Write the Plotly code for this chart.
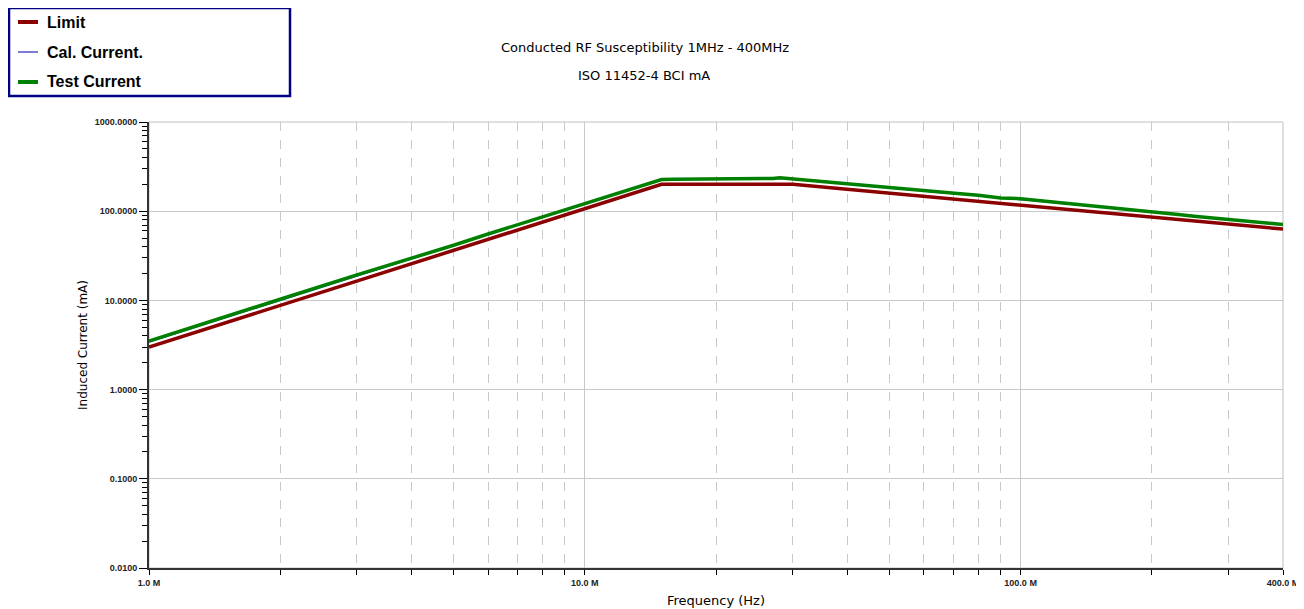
import plotly.graph_objects as go

# ---- data (frequency in MHz, current in mA) ----
limit_freq = [1, 15, 30, 400]
limit_ma = [3.0, 200, 200, 63]

freq = [1, 1.5, 2, 3, 4, 5, 6, 7, 8, 9, 10, 12, 14, 15, 16, 18, 20, 22, 25, 27,
        28, 30, 33, 36, 40, 45, 50, 55, 60, 65, 70, 75, 80, 90, 100, 110, 120,
        140, 160, 180, 200, 230, 250, 280, 300, 350, 380, 400]
test_ma = [3.5, 6.5, 10.3, 19.3, 29.6, 41.5, 55.5, 70.5, 86, 102, 120, 160, 204, 226,
           228, 229, 228, 231, 229, 233, 237, 229, 221, 212, 203, 193, 184, 177, 170,
           162, 158, 155, 151, 141, 138, 132, 125, 117, 109, 104, 99, 92, 88, 84, 81,
           76, 73, 71]
cal_ma = [3.4, 6.4, 10.1, 19.0, 29.2, 41.0, 55.0, 70.0, 85, 101, 119, 158, 202, 224,
          226, 227, 227, 229, 228, 230, 233, 228, 220, 211, 202, 192, 183, 176, 168,
          161, 157, 153, 149, 140, 136, 130, 124, 116, 108, 103, 98, 91, 87, 83, 80,
          75, 72, 70]

y_tickvals = [0.01, 0.1, 1, 10, 100, 1000]
y_ticktext = ["0.0100", "0.1000", "1.0000", "10.0000", "100.0000", "1000.0000"]
y_minor = [m * d for d in [0.01, 0.1, 1, 10, 100] for m in range(2, 10)]
x_tickvals = [1, 10, 100, 400]
x_ticktext = ["1.0 M", "10.0 M", "100.0 M", "400.0 M"]
x_minor = [m * d for d in [1, 10, 100] for m in range(2, 10) if m * d < 400]

legend_names = ["Limit", "Cal. Current.", "Test Current"]
colors = {"Limit": "#8b0000", "Cal. Current.": "#5050c8", "Test Current": "#008000"}
widths = {"Limit": 3.5, "Cal. Current.": 1.2, "Test Current": 3.5}

# page body has an 8px margin; target pixel coords are page coords
O = 8
L, R, T, B = 149, 1283, 122, 568
W, H = R - L, B - T
FW, FH = 1304 - O, 609 - O
TF = "DejaVu Sans"


def px(x):
    return (x - L) / W


def py(y):
    return (B - y) / H


fig = go.Figure()
fig.add_trace(go.Scatter(x=limit_freq, y=limit_ma, mode="lines", name="Limit",
                         line=dict(color=colors["Limit"], width=widths["Limit"])))
fig.add_trace(go.Scatter(x=freq, y=cal_ma, mode="lines", name="Cal. Current.",
                         line=dict(color=colors["Cal. Current."], width=widths["Cal. Current."])))
fig.add_trace(go.Scatter(x=freq, y=test_ma, mode="lines", name="Test Current",
                         line=dict(color=colors["Test Current"], width=widths["Test Current"])))

shapes = []
annotations = []
shapes.append(dict(type="rect", xref="paper", yref="paper", x0=0, x1=1, y0=0, y1=1,
                   line=dict(color="#c0c0c0", width=1), layer="below"))
shapes.append(dict(type="rect", xref="paper", yref="paper", x0=px(9), x1=px(290),
                   y0=py(96), y1=py(8), line=dict(color="#000080", width=2.5),
                   fillcolor="white"))
for i, name in enumerate(legend_names):
    yy = 22 + 30 * i
    shapes.append(dict(type="line", xref="paper", yref="paper", x0=px(18), x1=px(38),
                       y0=py(yy), y1=py(yy),
                       line=dict(color=colors[name], width=4 if name != "Cal. Current." else 1.5)))
    annotations.append(dict(text="<b>%s</b>" % name, xref="paper", yref="paper",
                            x=px(45), y=py(yy), xanchor="left", yanchor="middle",
                            showarrow=False, font=dict(family="Liberation Sans", size=16,
                                                       color="black")))
annotations.append(dict(text="Conducted RF Susceptibility 1MHz - 400MHz", xref="paper",
                        yref="paper", x=px(645), y=py(47), xanchor="center",
                        yanchor="middle", showarrow=False,
                        font=dict(family=TF, size=13, color="black")))
annotations.append(dict(text="ISO 11452-4 BCI mA", xref="paper",
                        yref="paper", x=px(644), y=py(75), xanchor="center",
                        yanchor="middle", showarrow=False,
                        font=dict(family=TF, size=13, color="black")))

fig.update_layout(
    width=FW, height=FH,
    margin=dict(l=L - O, r=1304 - R, t=T - O, b=609 - B, autoexpand=False),
    paper_bgcolor="white", plot_bgcolor="white",
    showlegend=False,
    shapes=shapes, annotations=annotations,
    font=dict(family="Liberation Sans", color="black"),
)
fig.update_xaxes(
    type="log", range=[0, 2.60206], automargin=False,
    tickmode="array", tickvals=x_tickvals,
    ticktext=["<b>%s</b>" % t for t in x_ticktext],
    tickfont=dict(family="Liberation Sans", size=9, color="#222"),
    ticks="outside", ticklen=5, tickcolor="black",
    showgrid=True, gridcolor="#c8c8c8", gridwidth=1,
    showline=True, linecolor="#333", linewidth=2,
    zeroline=False,
    minor=dict(tickmode="array", tickvals=x_minor, ticks="outside", ticklen=5,
               tickcolor="black", showgrid=True, gridcolor="#c8c8c8", griddash="dash"),
    title=dict(text="Frequency (Hz)", font=dict(family=TF, size=13),
               standoff=9),
)
fig.update_yaxes(
    type="log", range=[-2, 3], automargin=False,
    tickmode="array", tickvals=y_tickvals,
    ticktext=["<b>%s</b>" % t for t in y_ticktext],
    tickfont=dict(family="Liberation Sans", size=9, color="#222"),
    ticks="outside", ticklen=8, tickcolor="black",
    showgrid=True, gridcolor="#c8c8c8", gridwidth=1,
    showline=True, linecolor="#333", linewidth=2,
    zeroline=False,
    minor=dict(tickmode="array", tickvals=y_minor, ticks="outside", ticklen=5,
               tickcolor="black", showgrid=False),
    title=dict(text="Induced Current (mA)", font=dict(family=TF, size=12),
               standoff=4),
)

fig.write_html("out.html")
